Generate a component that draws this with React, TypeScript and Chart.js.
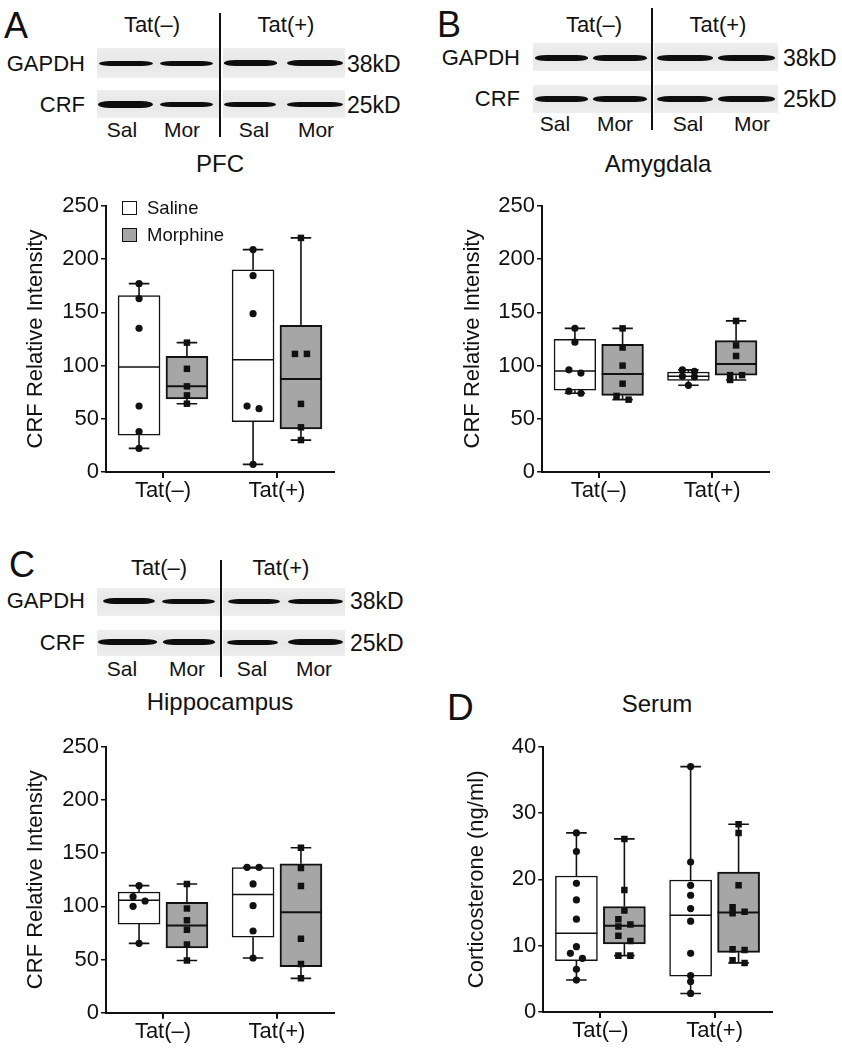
import React, { useEffect, useRef } from 'react';
import { Chart, registerables } from 'chart.js';

Chart.register(...registerables);

const FONT = '"Liberation Sans", Arial, Helvetica, sans-serif';
const INK = '#111111';
const GRAY = '#a6a6a6';

// ---------- data ----------
const groups = ['Tat(–)', 'Tat(+)'];
const seriesNames = ['Saline', 'Morphine'];

// box stats per group: [min, Q1, median, Q3, max]
const pfcSalineBox = [[22.2, 34.5, 98.7, 165.7, 177], [7.2, 47.3, 105.6, 190, 209]];
const pfcMorphineBox = [[64.2, 68.6, 80.5, 108.7, 121.6], [30, 40.4, 87.4, 137.8, 220]];
const pfcSalinePoints = [[177, 163, 135, 62, 38, 22.2], [209, 184.5, 148.8, 62, 59.5, 7.2]];
const pfcMorphinePoints = [[121.6, 97, 80.5, 72, 64.2], [220, 111, 111, 64, 42, 30]];

const amySalineBox = [[74, 76.8, 95, 124.7, 135], [81.5, 86, 90, 94, 96]];
const amyMorphineBox = [[68, 72, 92, 120, 135], [86.5, 91, 101.5, 123.4, 142]];
const amySalinePoints = [[135, 122, 96, 93, 76, 74], [96, 94.5, 90, 89.5, 81.5]];
const amyMorphinePoints = [[135, 117, 100, 83, 71.5, 68], [142, 119, 109, 91, 91, 86.5]];

const hipSalineBox = [[65.2, 83.3, 105.6, 113.4, 119.4], [51.4, 71, 111, 136.3, 136.6]];
const hipMorphineBox = [[49, 61, 82, 103.7, 121], [32.3, 43.2, 94.3, 140, 155]];
const hipSalinePoints = [[119.4, 109, 105, 100, 65.2], [136.6, 136.6, 121, 100.6, 76.8, 51.4]];
const hipMorphinePoints = [[121, 98, 87, 78, 64, 49], [155, 136, 119, 69.5, 45.7, 32.3]];

const serSalineBox = [[4.82, 7.74, 11.86, 20.5, 27.0], [2.8, 5.4, 14.6, 19.9, 37]];
const serMorphineBox = [[8.5, 10.25, 13.0, 15.9, 26.1], [7.4, 9.0, 15.0, 21.1, 28.3]];
const serSalinePoints = [[27.0, 24.2, 19.4, 16.9, 14.0, 9.85, 8.84, 8.1, 6.43, 4.82], [37, 22.6, 19.1, 17.6, 15.6, 13.7, 8.84, 5.5, 4.6, 2.8]];
const serMorphinePoints = [[26.1, 18.4, 15.3, 14.0, 13.2, 12.9, 11.5, 10.7, 8.5, 8.5], [28.3, 27.0, 19.1, 15.8, 15.1, 14.9, 9.45, 9.35, 7.8, 7.4]];

// ---------- styling constants ----------
const SLOT = 0.42; // category units per box slot
const HALF_BOX = 0.184; // half box width, category units
const CAP = 0.09; // half whisker-cap width, category units

function jitter(values: number[], pxPerUnit: number, pxPerCat: number): number[] {
  const idx = values.map((_, i) => i).sort((a, b) => values[b] - values[a]);
  const off = new Array(values.length).fill(0);
  let cluster: number[] = [];
  const flush = () => {
    if (cluster.length > 1) {
      cluster.forEach((i, k) => {
        off[i] = ((k % 2 === 0 ? -1 : 1) * 6) / pxPerCat;
      });
    }
    cluster = [];
  };
  idx.forEach((i) => {
    if (cluster.length && (values[cluster[cluster.length - 1]] - values[i]) * pxPerUnit > 5.8) flush();
    cluster.push(i);
  });
  flush();
  return off;
}

interface Geo { left: number; top: number; w: number; h: number }
interface Plot { left: number; right: number; top: number; bottom: number }

interface PanelProps {
  salineBox: number[][];
  morphineBox: number[][];
  salinePts: number[][];
  morphinePts: number[][];
  yMax: number;
  yStep: number;
  yTitle: string;
  canvas: Geo;
  plot: Plot;
  titleX: number;
}

function BoxPanel(p: PanelProps) {
  const ref = useRef<HTMLCanvasElement | null>(null);
  useEffect(() => {
    if (!ref.current) return;
    const pxPerUnit = (p.plot.bottom - p.plot.top) / p.yMax;
    const pxPerCat = (p.plot.right - p.plot.left) / 2;
    const datasets: any[] = [];
    const sides = [
      { name: seriesNames[0], box: p.salineBox, pts: p.salinePts, fill: '#ffffff', side: -1, style: 'circle', r: 3.6, medW: 1.5, bw: 1.5 },
      { name: seriesNames[1], box: p.morphineBox, pts: p.morphinePts, fill: GRAY, side: 1, style: 'rect', r: 4.6, medW: 2, bw: 2 },
    ];
    sides.forEach((s) => {
      const bars: any[] = [];
      const whisk: any[] = [];
      const med: any[] = [];
      const pts: any[] = [];
      s.box.forEach((b, g) => {
        const cx = g + 0.5 + (s.side * SLOT) / 2;
        const [mn, q1, md, q3, mx] = b;
        bars.push({ x: cx, y: [q1, q3] });
        whisk.push(
          { x: cx, y: q3 }, { x: cx, y: mx }, { x: cx, y: null },
          { x: cx, y: q1 }, { x: cx, y: mn }, { x: cx, y: null },
          { x: cx - CAP, y: mx }, { x: cx + CAP, y: mx }, { x: cx, y: null },
          { x: cx - CAP, y: mn }, { x: cx + CAP, y: mn }, { x: cx, y: null },
        );
        med.push({ x: cx - HALF_BOX, y: md }, { x: cx + HALF_BOX, y: md }, { x: cx, y: null });
        const offs = jitter(s.pts[g], pxPerUnit, pxPerCat);
        s.pts[g].forEach((v, i) => pts.push({ x: cx + offs[i], y: v }));
      });
      datasets.push({
        type: 'bar',
        label: s.name,
        data: bars,
        backgroundColor: s.fill,
        borderColor: INK,
        borderWidth: s.bw,
        borderSkipped: false,
        grouped: false,
        barThickness: HALF_BOX * 2 * pxPerCat,
        xAxisID: 'xl',
        yAxisID: 'y',
        order: 4,
      });
      datasets.push({ type: 'line', label: s.name + ' whiskers', data: whisk, borderColor: INK, borderWidth: 1.6, pointRadius: 0, spanGaps: false, xAxisID: 'xl', yAxisID: 'y', order: 3 });
      datasets.push({ type: 'line', label: s.name + ' median', data: med, borderColor: INK, borderWidth: s.medW, pointRadius: 0, spanGaps: false, xAxisID: 'xl', yAxisID: 'y', order: 2 });
      datasets.push({
        type: 'line', label: s.name + ' points', data: pts, showLine: false,
        pointStyle: s.style, pointRadius: s.r, pointBackgroundColor: INK, pointBorderColor: INK, pointBorderWidth: 0,
        xAxisID: 'xl', yAxisID: 'y', order: 1,
      });
    });

    const c = p.canvas;
    const yW = p.plot.left - c.left;
    const xH = c.top + c.h - p.plot.bottom;
    const titleFont = { family: FONT, size: 22, lineHeight: 1.2 };
    const chart = new Chart(ref.current, {
      type: 'bar',
      data: { labels: groups, datasets },
      options: {
        responsive: false,
        maintainAspectRatio: false,
        animation: false,
        events: [],
        layout: { padding: { left: 0, top: p.plot.top - c.top, right: c.left + c.w - p.plot.right, bottom: 0 } },
        plugins: { legend: { display: false }, tooltip: { enabled: false }, title: { display: false } },
        scales: {
          x: {
            type: 'category',
            labels: groups,
            position: 'bottom',
            offset: true,
            grid: { display: true, drawOnChartArea: false, offset: false, drawTicks: true, tickLength: 6, color: INK, lineWidth: 2 },
            border: { display: true, color: INK, width: 2 },
            ticks: { color: INK, font: { family: FONT, size: 22 }, padding: 0, maxRotation: 0, autoSkip: false },
            afterFit: (s: any) => { s.height = xH; },
          },
          xl: {
            type: 'linear', display: false, min: 0, max: 2, position: 'bottom', offset: false,
            grid: { offset: false }, stacked: false,
          },
          y: {
            type: 'linear',
            position: 'left',
            min: 0,
            max: p.yMax,
            stacked: false,
            ticks: { stepSize: p.yStep, color: INK, font: { family: FONT, size: 22 }, padding: 2 },
            grid: { display: true, drawOnChartArea: false, drawTicks: true, tickLength: 5, color: INK, lineWidth: 1.5 },
            border: { display: true, color: INK, width: 2 },
            title: { display: true, text: p.yTitle, color: INK, font: titleFont, padding: { top: p.titleX - c.left - 13.2, bottom: 0 } },
            afterFit: (s: any) => { s.width = yW; },
          },
        },
      } as any,
    });
    return () => chart.destroy();
  }, []);
  const c = p.canvas;
  return (
    <canvas
      ref={ref}
      width={c.w}
      height={c.h}
      style={{ position: 'absolute', left: c.left, top: c.top, width: c.w, height: c.h }}
    />
  );
}

// ---------- text helper ----------
function Txt(props: { x: number; y: number; size: number; align?: 'left' | 'center' | 'right'; children: React.ReactNode }) {
  const align = props.align || 'center';
  const tx = align === 'center' ? '-50%' : align === 'right' ? '-100%' : '0';
  return (
    <div
      style={{
        position: 'absolute', left: props.x, top: props.y, transform: `translate(${tx}, -50%)`,
        fontSize: props.size, lineHeight: 1, whiteSpace: 'nowrap', color: INK, fontFamily: FONT,
      }}
    >
      {props.children}
    </div>
  );
}

// ---------- western blot drawing ----------
interface BlotCfg {
  strips: number[][];
  gapdhY: number[];
  crfY: number[];
  gapdhBands: number[][];
  crfBands: number[][];
  gapdhCy: number;
  crfCy: number;
  crfThick: number[];
  gapdhThick: number[];
  divider: number[];
}

function Blot({ cfg }: { cfg: BlotCfg }) {
  const els: React.ReactNode[] = [];
  cfg.strips.forEach((s, i) => {
    [cfg.gapdhY, cfg.crfY].forEach((yy, j) => {
      els.push(
        <div key={`s${i}${j}`} style={{ position: 'absolute', left: s[0], top: yy[0], width: s[1] - s[0], height: yy[1] - yy[0], background: 'linear-gradient(#eeeeee, #e7e7e7 50%, #eeeeee)' }} />,
      );
    });
  });
  const band = (key: string, x: number[], cy: number, t: number) => (
    <div
      key={key}
      style={{
        position: 'absolute', left: x[0], top: cy - t / 2, width: x[1] - x[0], height: t,
        background: '#0d0d0d', borderRadius: `${(x[1] - x[0]) * 0.22}px / ${t / 2}px`, filter: 'blur(0.6px)',
      }}
    />
  );
  cfg.gapdhBands.forEach((x, i) => els.push(band(`g${i}`, x, cfg.gapdhCy, cfg.gapdhThick[i])));
  cfg.crfBands.forEach((x, i) => els.push(band(`c${i}`, x, cfg.crfCy, cfg.crfThick[i])));
  els.push(
    <div key="div" style={{ position: 'absolute', left: cfg.divider[0] - 1, top: cfg.divider[1], width: 2.2, height: cfg.divider[2] - cfg.divider[1], background: INK }} />,
  );
  return <>{els}</>;
}

const blotA: BlotCfg = {
  strips: [[97, 219], [223, 345]],
  gapdhY: [48, 78],
  crfY: [90, 118],
  gapdhBands: [[99, 153], [160, 213], [224, 277], [287, 343]],
  crfBands: [[98, 153], [160, 213], [224, 276], [287, 343]],
  gapdhCy: 63,
  crfCy: 104.5,
  gapdhThick: [5, 5, 5.5, 6],
  crfThick: [7, 5.5, 5.5, 5],
  divider: [220, 13, 137],
};
const blotB: BlotCfg = {
  strips: [[533, 651], [654, 778]],
  gapdhY: [43, 71],
  crfY: [85, 113],
  gapdhBands: [[535, 588], [593, 647], [657, 713], [718, 775]],
  crfBands: [[535, 588], [593, 647], [657, 713], [718, 775]],
  gapdhCy: 58,
  crfCy: 99,
  gapdhThick: [5.5, 5.5, 5.5, 5.5],
  crfThick: [5.5, 5.5, 6, 5.5],
  divider: [652, 8, 130],
};
const blotC: BlotCfg = {
  strips: [[97, 220], [223, 345]],
  gapdhY: [588, 616],
  crfY: [630, 656],
  gapdhBands: [[103, 155], [162, 215], [228, 280], [288, 343]],
  crfBands: [[98, 157], [163, 215], [227, 278], [288, 343]],
  gapdhCy: 601,
  crfCy: 642,
  gapdhThick: [6, 5, 5, 5],
  crfThick: [5.5, 5.5, 5, 6],
  divider: [221, 560, 677],
};

function BlotLabels(props: {
  letter: string; letterX: number; letterY: number;
  hdrY: number; hdrX: number[];
  labelRight: number; gY: number; cY: number; kdLeft: number;
  lanesY: number; lanesX: number[];
}) {
  return (
    <>
      <Txt x={props.letterX} y={props.letterY} size={36} align="left">{props.letter}</Txt>
      <Txt x={props.hdrX[0]} y={props.hdrY} size={22}>Tat(–)</Txt>
      <Txt x={props.hdrX[1]} y={props.hdrY} size={22}>Tat(+)</Txt>
      <Txt x={props.labelRight} y={props.gY} size={22} align="right">GAPDH</Txt>
      <Txt x={props.labelRight} y={props.cY} size={22} align="right">CRF</Txt>
      <Txt x={props.kdLeft} y={props.gY} size={23} align="left">38kD</Txt>
      <Txt x={props.kdLeft} y={props.cY} size={23} align="left">25kD</Txt>
      {['Sal', 'Mor', 'Sal', 'Mor'].map((t, i) => (
        <Txt key={i} x={props.lanesX[i]} y={props.lanesY} size={21}>{t}</Txt>
      ))}
    </>
  );
}

export default function App() {
  return (
    <div style={{ position: 'absolute', left: 0, top: 0, width: 842, height: 1050, background: '#ffffff', overflow: 'hidden', fontFamily: FONT }}>
      {/* Panel A */}
      <Blot cfg={blotA} />
      <BlotLabels letter="A" letterX={4} letterY={25.5} hdrY={25} hdrX={[152, 286]} labelRight={85} gY={64} cY={105} kdLeft={347} lanesY={128.5} lanesX={[122, 182, 254, 316]} />
      <Txt x={220} y={163.5} size={24}>PFC</Txt>
      <BoxPanel
        salineBox={pfcSalineBox} morphineBox={pfcMorphineBox} salinePts={pfcSalinePoints} morphinePts={pfcMorphinePoints}
        yMax={250} yStep={50} yTitle="CRF Relative Intensity"
        canvas={{ left: 0, top: 180, w: 420, h: 340 }}
        plot={{ left: 106, right: 334, top: 206, bottom: 472 }}
        titleX={36}
      />
      {/* legend (panel A) */}
      <div style={{ position: 'absolute', left: 122, top: 201, width: 15, height: 14, boxSizing: 'border-box', border: `1.5px solid ${INK}`, background: '#fff' }} />
      <div style={{ position: 'absolute', left: 122, top: 228, width: 15, height: 14, boxSizing: 'border-box', border: `1.5px solid ${INK}`, background: GRAY }} />
      <Txt x={147} y={208} size={18.5} align="left">{seriesNames[0]}</Txt>
      <Txt x={147} y={235} size={18.5} align="left">{seriesNames[1]}</Txt>

      {/* Panel B */}
      <Blot cfg={blotB} />
      <BlotLabels letter="B" letterX={437} letterY={24.5} hdrY={25} hdrX={[594, 718]} labelRight={520} gY={58} cY={99} kdLeft={783} lanesY={123} lanesX={[555, 615, 688, 752]} />
      <Txt x={658} y={163.5} size={24}>Amygdala</Txt>
      <BoxPanel
        salineBox={amySalineBox} morphineBox={amyMorphineBox} salinePts={amySalinePoints} morphinePts={amyMorphinePoints}
        yMax={250} yStep={50} yTitle="CRF Relative Intensity"
        canvas={{ left: 430, top: 180, w: 412, h: 340 }}
        plot={{ left: 542, right: 769, top: 206, bottom: 472 }}
        titleX={472.5}
      />

      {/* Panel C */}
      <Blot cfg={blotC} />
      <BlotLabels letter="C" letterX={9} letterY={564.5} hdrY={568} hdrX={[159, 281]} labelRight={85} gY={601} cY={643} kdLeft={350} lanesY={668} lanesX={[122, 187, 252, 314]} />
      <Txt x={220} y={701.5} size={24}>Hippocampus</Txt>
      <BoxPanel
        salineBox={hipSalineBox} morphineBox={hipMorphineBox} salinePts={hipSalinePoints} morphinePts={hipMorphinePoints}
        yMax={250} yStep={50} yTitle="CRF Relative Intensity"
        canvas={{ left: 0, top: 720, w: 420, h: 330 }}
        plot={{ left: 106, right: 334, top: 746.7, bottom: 1012.7 }}
        titleX={36}
      />

      {/* Panel D */}
      <Txt x={447} y={707} size={37} align="left">D</Txt>
      <Txt x={657} y={703.5} size={24}>Serum</Txt>
      <BoxPanel
        salineBox={serSalineBox} morphineBox={serMorphineBox} salinePts={serSalinePoints} morphinePts={serMorphinePoints}
        yMax={40} yStep={10} yTitle="Corticosterone (ng/ml)"
        canvas={{ left: 430, top: 720, w: 412, h: 330 }}
        plot={{ left: 543.3, right: 771.7, top: 746.7, bottom: 1012 }}
        titleX={477}
      />
    </div>
  );
}
